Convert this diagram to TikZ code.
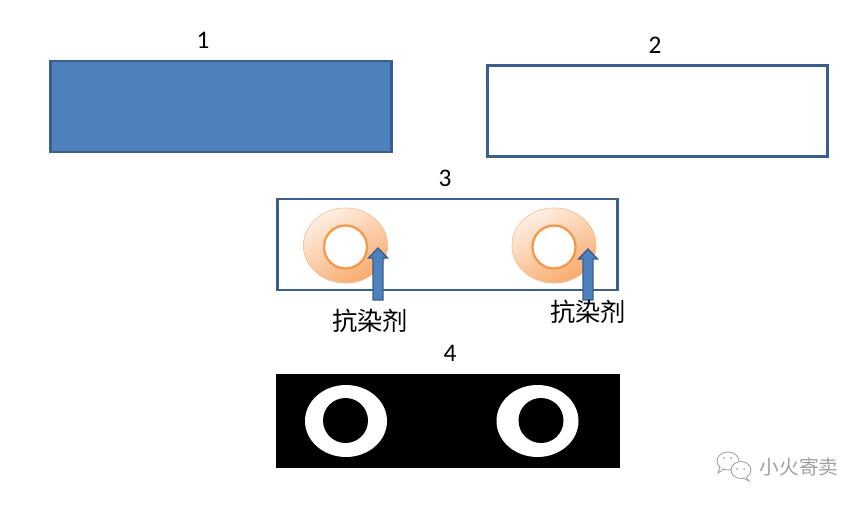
\documentclass[tikz,border=0pt]{standalone}
\usepackage{fontspec}
\setmainfont{Carlito}
\newfontfamily\cjk{Noto Sans CJK SC}
\usepackage{tikz}
\usetikzlibrary{positioning}
\definecolor{boxblue}{HTML}{4F81BD}
\definecolor{boxedge}{HTML}{3A5F8E}
\definecolor{ringedge}{HTML}{F79646}
\definecolor{ringtop}{HTML}{FDEFE4}
\definecolor{ringbot}{HTML}{F8AB6E}
\definecolor{wmgray}{HTML}{A0A0A0}
\tikzset{
  panel/.style={draw=boxedge,line width=1.9pt,minimum width=8.5cm,minimum height=2.275cm,inner sep=0pt},
  numlab/.style={font=\fontsize{18}{20}\selectfont,inner sep=0pt},
  ring/.style={draw=ringedge!55,thin,top color=ringtop,bottom color=ringbot,shading angle=30},
  hole/.style={draw=ringedge,line width=1.6pt,fill=white},
  blockarr/.style={fill=boxblue,draw=boxedge,line width=1pt,line join=miter},
  agent/.style={font=\cjk\fontsize{18}{20}\selectfont,inner sep=0pt},
  wmark/.style={font=\cjk\fontsize{14}{16}\selectfont,text=wmgray,inner sep=0pt},
  bubble/.style={draw=wmgray,line width=0.6pt,fill=white},
}
\begin{document}
\begin{tikzpicture}[x=0.025cm,y=-0.025cm]
  \useasboundingbox (0,0) rectangle (868,507);
  % the four panels
  \node[panel,fill=boxblue,line width=2.1pt] (p1) at (221,106.5) {};
  \node[panel,fill=white] (p2) at (657.5,111) {};
  \node[panel,fill=white] (p3) at (447.5,244.5) {};
  \node[panel,draw=none,fill=black,minimum width=8.6cm,minimum height=2.35cm] (p4) at (448,421) {};
  \node[numlab] (n1) at (203,40) {1};
  \node[numlab] (n2) at (655,45) {2};
  \node[numlab] (n3) at (445,178) {3};
  \node[numlab] (n4) at (450,353) {4};
  % rings in panel 3
  \foreach \cx in {345.5,554}{
     \fill[ring] (\cx,245.5) ellipse [x radius=42,y radius=37.5];
     \draw[ring,fill=none] (\cx,245.5) ellipse [x radius=42,y radius=37.5];
     \draw[hole] (\cx,247) circle (21.5);}
  \foreach \cx/\ty in {378/248,588/249}{
     \draw[blockarr] (\cx-5,300) -- (\cx-5,\ty+10) -- (\cx-9.5,\ty+10) -- (\cx,\ty)
        -- (\cx+9.5,\ty+10) -- (\cx+5,\ty+10) -- (\cx+5,300) -- cycle;}
  \node[agent] (a1) at (370,321) {抗染剂};
  \node[agent] (a2) at (588,312) {抗染剂};
  % rings in panel 4
  \foreach \cx/\hx in {346/345.5,537.5/541}{
     \fill[white] (\cx,421) ellipse [x radius=41,y radius=36];
     \fill[black] (\hx,420.5) circle (22.5);}
  % watermark
  \draw[bubble] (728,461) ellipse [x radius=11,y radius=9];
  \draw[bubble] (720,467) -- (718,473) -- (724,469);
  \draw[bubble] (741,470) ellipse [x radius=10,y radius=8.5];
  \draw[bubble] (746,477) -- (749,481) -- (743,478);
  \foreach \dx/\dy in {724/458,731/458,737/469,744/469}
     \fill[wmgray] (\dx,\dy) circle (1);
  \node[wmark] (wm) at (799,467) {小火寄卖};
\end{tikzpicture}
\end{document}
